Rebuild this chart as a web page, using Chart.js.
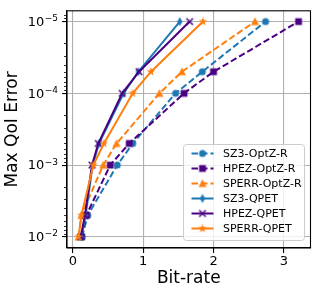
<!DOCTYPE html>
<html>
<head>
<meta charset="utf-8">
<script src="https://cdn.jsdelivr.net/npm/chart.js@4"></script>
<style>
    html, body { margin: 0; padding: 0; background: #fff; }
    #wrap { width: 318px; height: 297px; position: relative; }
</style>
</head>
<body>
<div id="wrap"><canvas id="chart" width="318" height="297"></canvas></div>
<script>
// Error bounds (y) shared by every series
const errorBounds = [1e-2, 5e-3, 1e-3, 5e-4, 1e-4, 5e-5, 1e-5];

// Bit-rate (x) per series, one value per error bound
const sz3OptZ   = [0.13, 0.21, 0.63, 0.85, 1.46, 1.84, 2.74];
const hpezOptZ  = [0.12, 0.19, 0.53, 0.80, 1.58, 2.00, 3.21];
const sperrOptZ = [0.08, 0.12, 0.43, 0.62, 1.23, 1.55, 2.59];
const sz3Qpet   = [0.12, 0.18, 0.28, 0.37, 0.72, 0.93, 1.52];
const hpezQpet  = [0.11, 0.17, 0.27, 0.36, 0.70, 0.94, 1.66];
const sperrQpet = [0.08, 0.12, 0.29, 0.44, 0.85, 1.11, 1.85];

const seriesNames = ['SZ3-OptZ-R', 'HPEZ-OptZ-R', 'SPERR-OptZ-R', 'SZ3-QPET', 'HPEZ-QPET', 'SPERR-QPET'];

// Axis ticks
const xTickValues = [0, 1, 2, 3];
const yTickValues = [1e-5, 1e-4, 1e-3, 1e-2];
const yTickExponents = ['−5', '−4', '−3', '−2'];

const BLUE = '#1f77b4';
const INDIGO = '#4b0082';
const ORANGE = '#ff7f0e';
const FONT = "'DejaVu Sans', sans-serif";

// Build small canvases to use as matplotlib-like markers
function makeMarker(kind, color) {
    const c = document.createElement('canvas');
    c.width = 14; c.height = 14;
    const g = c.getContext('2d');
    g.fillStyle = color;
    g.strokeStyle = color;
    g.translate(7, 7);
    g.beginPath();
    if (kind === 'circle') {
        g.arc(0, 0, 3.5, 0, Math.PI * 2);
        g.fill();
    } else if (kind === 'square') {
        g.fillRect(-3.4, -3.4, 6.8, 6.8);
    } else if (kind === 'triangle') {
        g.moveTo(0, -4.3);
        g.lineTo(4, 3.4);
        g.lineTo(-4, 3.4);
        g.closePath();
        g.fill();
    } else if (kind === 'thindiamond') {
        g.moveTo(0, -4.6);
        g.lineTo(2.7, 0);
        g.lineTo(0, 4.6);
        g.lineTo(-2.7, 0);
        g.closePath();
        g.fill();
    } else if (kind === 'x') {
        g.lineWidth = 1.5;
        g.moveTo(-3.3, -3.3); g.lineTo(3.3, 3.3);
        g.moveTo(3.3, -3.3); g.lineTo(-3.3, 3.3);
        g.stroke();
    } else if (kind === 'star') {
        for (let i = 0; i < 10; i++) {
            const r = i % 2 === 0 ? 4.6 : 1.9;
            const a = -Math.PI / 2 + i * Math.PI / 5;
            const px = r * Math.cos(a), py = r * Math.sin(a);
            if (i === 0) g.moveTo(px, py); else g.lineTo(px, py);
        }
        g.closePath();
        g.fill();
    }
    return c;
}

const seriesX = [sz3OptZ, hpezOptZ, sperrOptZ, sz3Qpet, hpezQpet, sperrQpet];
const seriesColors = [BLUE, INDIGO, ORANGE, BLUE, INDIGO, ORANGE];
const seriesMarkers = ['circle', 'square', 'triangle', 'thindiamond', 'x', 'star'];
const seriesDashed = [true, true, true, false, false, false];
const DASH = [6.5, 3];

const datasets = seriesX.map((xs, i) => ({
    label: seriesNames[i],
    data: xs.map((x, j) => ({ x: x, y: errorBounds[j] })),
    borderColor: seriesColors[i],
    backgroundColor: seriesColors[i],
    borderWidth: 2,
    borderDash: seriesDashed[i] ? DASH : [],
    pointStyle: makeMarker(seriesMarkers[i], seriesColors[i]),
    pointRadius: 4,
    tension: 0,
    fill: false,
    order: seriesX.length - i
}));

// Minor ticks on log axis, frame, y labels with superscripts and legend
const extrasPlugin = {
    id: 'extras',
    afterDatasetsDraw(chart) {
        const ctx = chart.ctx;
        const a = chart.chartArea;
        const y = chart.scales.y;
        ctx.save();
        ctx.strokeStyle = '#000';
        ctx.lineWidth = 0.8;
        for (let e = -6; e <= -1; e++) {
            for (let m = 2; m <= 9; m++) {
                const v = m * Math.pow(10, e);
                if (v < y.min || v > y.max) continue;
                const py = Math.round(y.getPixelForValue(v)) + 0.5;
                ctx.beginPath();
                ctx.moveTo(a.left - 3, py);
                ctx.lineTo(a.left, py);
                ctx.stroke();
            }
        }
        ctx.lineWidth = 1.1;
        ctx.strokeRect(a.left, a.top, a.right - a.left, a.bottom - a.top);
        ctx.restore();
    },
    afterDraw(chart) {
        const ctx = chart.ctx;
        const a = chart.chartArea;
        const yScale = chart.scales.y;
        ctx.save();
        // y tick labels: "10" with raised exponent
        ctx.fillStyle = '#000';
        yTickValues.forEach((v, k) => {
            const py = yScale.getPixelForValue(v);
            const right = a.left - 9;
            ctx.font = '9px ' + FONT;
            ctx.textAlign = 'right';
            ctx.textBaseline = 'alphabetic';
            const ew = ctx.measureText(yTickExponents[k]).width;
            ctx.fillText(yTickExponents[k], right, py - 0.5);
            ctx.font = '13px ' + FONT;
            ctx.textBaseline = 'middle';
            ctx.fillText('10', right - ew - 0.5, py + 1);
        });
        ctx.textAlign = 'left';

        // legend
        const w = 121, h = 96;
        const bx = a.right - 6.5 - w;
        const by = a.bottom - 8 - h;
        ctx.beginPath();
        ctx.roundRect(bx + 0.5, by + 0.5, w, h, 3);
        ctx.fillStyle = 'rgba(255,255,255,0.8)';
        ctx.fill();
        ctx.strokeStyle = '#cccccc';
        ctx.lineWidth = 1;
        ctx.stroke();
        chart.data.datasets.forEach((ds, i) => {
            const ry = by + 9.5 + i * 15;
            ctx.beginPath();
            ctx.setLineDash(ds.borderDash);
            ctx.strokeStyle = ds.borderColor;
            ctx.lineWidth = 2;
            ctx.moveTo(bx + 8.5, ry);
            ctx.lineTo(bx + 30.5, ry);
            ctx.stroke();
            ctx.setLineDash([]);
            ctx.drawImage(ds.pointStyle, bx + 19.5 - 7, ry - 7);
            ctx.fillStyle = '#000';
            ctx.font = '11px ' + FONT;
            ctx.textBaseline = 'middle';
            ctx.fillText(ds.label, bx + 40, ry + 0.5);
        });
        ctx.restore();
    }
};

new Chart(document.getElementById('chart').getContext('2d'), {
    type: 'line',
    data: { datasets: datasets },
    options: {
        responsive: false,
        animation: false,
        layout: { padding: { left: 0, right: 7.5, top: 7.5, bottom: 0 } },
        plugins: {
            legend: { display: false },
            tooltip: { enabled: false }
        },
        scales: {
            x: {
                type: 'linear',
                min: -0.085,
                max: 3.38,
                afterBuildTicks: s => { s.ticks = xTickValues.map(v => ({ value: v })); },
                afterFit: s => { s.height = 49; },
                ticks: {
                    color: '#000',
                    font: { family: FONT, size: 13 },
                    padding: 1,
                    maxRotation: 0
                },
                grid: { color: '#b0b0b0', lineWidth: 1.1, tickColor: '#000', tickLength: 5 },
                border: { display: true, color: '#000', width: 1.1 },
                title: {
                    display: true,
                    text: 'Bit-rate',
                    color: '#000',
                    font: { family: FONT, size: 17 },
                    padding: { top: 0, bottom: 8 }
                }
            },
            y: {
                type: 'logarithmic',
                reverse: true,
                min: 7.08e-6,
                max: 0.01429,
                afterBuildTicks: s => { s.ticks = yTickValues.map(v => ({ value: v })); },
                afterFit: s => { s.width = 67; },
                ticks: {
                    color: '#000',
                    font: { family: FONT, size: 13 },
                    padding: 3,
                    callback: () => ''
                },
                grid: { color: '#b0b0b0', lineWidth: 1.1, tickColor: '#000', tickLength: 5 },
                border: { display: true, color: '#000', width: 1.1 },
                title: {
                    display: true,
                    text: 'Max QoI Error',
                    color: '#000',
                    font: { family: FONT, size: 17 },
                    padding: { top: 2, bottom: 0 }
                }
            }
        }
    },
    plugins: [extrasPlugin]
});
</script>
</body>
</html>
